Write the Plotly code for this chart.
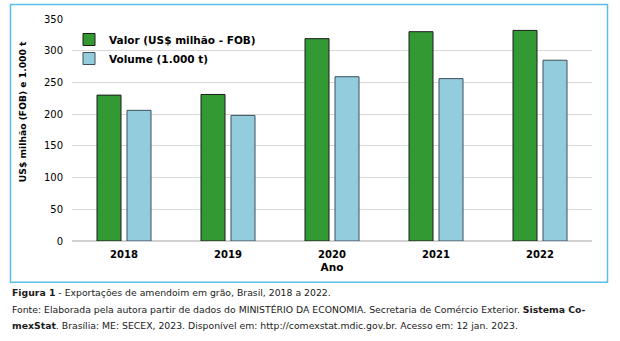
import plotly.graph_objects as go

anos = ["2018", "2019", "2020", "2021", "2022"]
valor = [230, 231, 319, 330, 332]
volume = [206, 198, 259, 256, 285]
y_ticks = [0, 50, 100, 150, 200, 250, 300, 350]

W, H = 620, 341
L, R, T, B = 72, 592, 19, 240.7  # plot area in pixels


def px(x):
    return (x - L) / (R - L)


def py(y):
    return (B - y) / (B - T)


FONT = "DejaVu Sans"

fig = go.Figure()
fig.add_trace(go.Bar(
    x=anos, y=valor, name="<b>Valor (US$ milhão - FOB)</b>",
    marker=dict(color="#339933", line=dict(color="#1c1c1c", width=1)),
))
fig.add_trace(go.Bar(
    x=anos, y=volume, name="<b>Volume (1.000 t)</b>",
    marker=dict(color="#93CDDD", line=dict(color="#3d4f5c", width=1)),
))

fig.update_layout(
    width=W, height=H,
    margin=dict(l=L, r=W - R, t=T, b=H - B),
    paper_bgcolor="white", plot_bgcolor="white",
    barmode="group", bargap=0.423, bargroupgap=0.2,
    font=dict(family=FONT, size=10, color="#000000"),
    showlegend=True,
    legend=dict(
        x=px(69), y=py(25), xanchor="left", yanchor="top",
        bgcolor="rgba(0,0,0,0)", font=dict(size=10.5, family=FONT),
        itemwidth=30, tracegroupgap=0,
    ),
    xaxis=dict(
        showgrid=False, showline=False, ticks="",
        tickfont=dict(size=10, family=FONT), ticklabelstandoff=6,
        tickprefix="<b>", ticksuffix="</b>",
        title=dict(text="<b>Ano</b>", font=dict(size=10.5, family=FONT), standoff=4),
    ),
    yaxis=dict(
        range=[0, 350], tickvals=y_ticks, showgrid=True, gridcolor="#D9D9D9",
        gridwidth=1, zeroline=True, zerolinecolor="#D0D0D0", zerolinewidth=2,
        showline=False, ticks="", tickprefix="<b>", ticksuffix="</b>",
        tickfont=dict(size=10, family=FONT), ticklabelstandoff=8,
    ),
)

# y-axis title (placed like the original, above the plot centre)
fig.add_annotation(text="<b>US$ milhão (FOB) e 1.000 t</b>", textangle=-90,
                   xref="paper", yref="paper", x=px(22), y=py(112),
                   xanchor="center", yanchor="middle", showarrow=False,
                   font=dict(size=9.2, family=FONT, color="#000000"))

# chart frame
fig.add_shape(type="rect", xref="paper", yref="paper",
              x0=px(10.5), x1=px(607.5), y0=py(282), y1=py(4.5),
              line=dict(color="#5BBDE8", width=1.5), fillcolor="rgba(0,0,0,0)", layer="below")

captions = [
    (292, "<b>Figura 1</b> - Exportações de amendoim em grão, Brasil, 2018 a 2022."),
    (309, "Fonte: Elaborada pela autora partir de dados do MINISTÉRIO DA ECONOMIA. Secretaria de Comércio Exterior. <b>Sistema Co-</b>"),
    (325, "<b>mexStat</b>. Brasília: ME: SECEX, 2023. Disponível em: http://comexstat.mdic.gov.br. Acesso em: 12 jan. 2023."),
]
for yy, txt in captions:
    fig.add_annotation(text=txt, xref="paper", yref="paper", x=px(10), y=py(yy),
                       xanchor="left", yanchor="middle", showarrow=False,
                       font=dict(size=9.3, family=FONT, color="#1a1a1a"))

fig.write_html("out.html")
